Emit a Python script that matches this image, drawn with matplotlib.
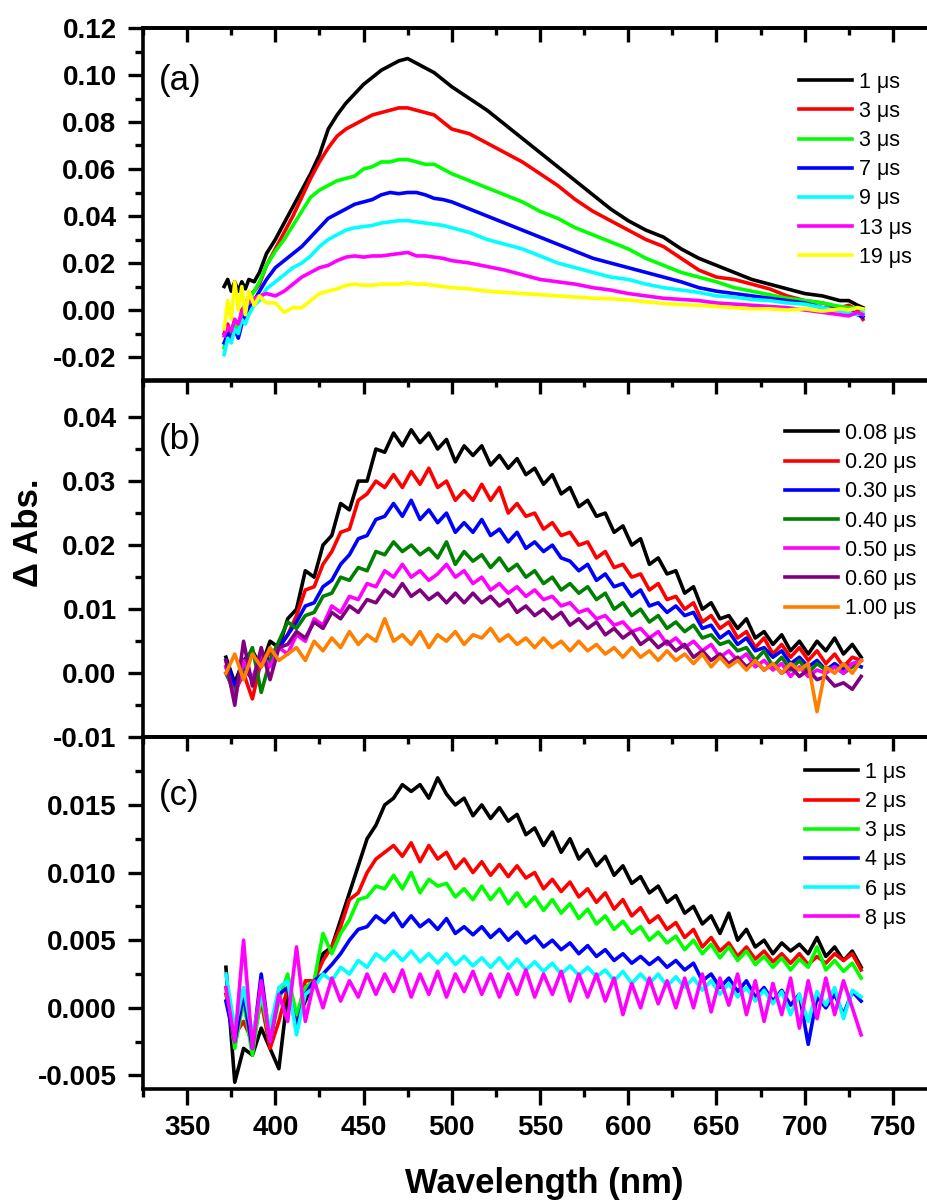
import matplotlib
matplotlib.use("Agg")
import matplotlib.pyplot as plt
from matplotlib.ticker import FixedLocator, FixedFormatter

plt.rcParams['font.family'] = ['Liberation Sans', 'DejaVu Sans']

# ---------------- data ----------------
# panel (a)
wl_a = [371, 373, 375, 377, 379, 381, 383, 385, 388, 391,
        395, 400, 405, 410, 415, 420, 425, 430, 435, 440,
        445, 450, 455, 460, 465, 470, 475, 480, 485, 490,
        495, 500, 510, 520, 530, 540, 550, 560, 570, 580,
        590, 600, 610, 620, 630, 640, 650, 660, 670, 680,
        690, 700, 710, 720, 725, 730, 733]

a_1us = [0.010, 0.013, 0.008, 0.012, 0.008, 0.012, 0.009, 0.013, 0.012, 0.016,
         0.024, 0.030, 0.037, 0.044, 0.051, 0.058, 0.066, 0.077, 0.083, 0.088,
         0.092, 0.096, 0.099, 0.102, 0.104, 0.106, 0.107, 0.105, 0.103, 0.101,
         0.098, 0.095, 0.090, 0.085, 0.079, 0.073, 0.067, 0.061, 0.055, 0.049,
         0.043, 0.038, 0.034, 0.031, 0.026, 0.022, 0.019, 0.016, 0.013, 0.011,
         0.009, 0.007, 0.006, 0.004, 0.004, 0.002, 0.001]
a_3us_r = [-0.010, -0.006, -0.011, -0.004, -0.008, 0.000, 0.002, 0.006, 0.008, 0.011,
           0.019, 0.026, 0.033, 0.040, 0.048, 0.056, 0.063, 0.069, 0.074, 0.077,
           0.079, 0.081, 0.083, 0.084, 0.085, 0.086, 0.086, 0.085, 0.084, 0.083,
           0.080, 0.077, 0.075, 0.071, 0.067, 0.063, 0.058, 0.053, 0.047, 0.042,
           0.038, 0.034, 0.030, 0.027, 0.022, 0.017, 0.014, 0.013, 0.011, 0.009,
           0.006, 0.004, 0.003, 0.001, 0.002, 0.000, -0.004]
a_3us_g = [-0.016, -0.010, -0.012, -0.006, -0.008, -0.002, 0.001, 0.004, 0.008, 0.012,
           0.019, 0.025, 0.030, 0.036, 0.042, 0.048, 0.051, 0.053, 0.055, 0.056,
           0.057, 0.060, 0.061, 0.063, 0.063, 0.064, 0.064, 0.063, 0.062, 0.062,
           0.060, 0.058, 0.055, 0.052, 0.049, 0.046, 0.042, 0.039, 0.035, 0.032,
           0.029, 0.026, 0.022, 0.019, 0.016, 0.014, 0.012, 0.0095, 0.008, 0.0065,
           0.005, 0.004, 0.003, 0.0015, 0.001, 0.001, 0.000]
a_7us = [-0.014, -0.010, -0.012, -0.008, -0.012, -0.006, -0.002, 0.001, 0.004, 0.008,
         0.013, 0.018, 0.021, 0.024, 0.027, 0.031, 0.035, 0.039, 0.041, 0.043,
         0.045, 0.046, 0.047, 0.049, 0.050, 0.0495, 0.050, 0.050, 0.049, 0.0475,
         0.047, 0.046, 0.043, 0.040, 0.037, 0.034, 0.031, 0.028, 0.025, 0.022,
         0.020, 0.018, 0.016, 0.014, 0.012, 0.0095, 0.008, 0.007, 0.006, 0.005,
         0.004, 0.003, 0.001, 0.000, 0.000, -0.002, -0.003]
a_9us = [-0.019, -0.012, -0.014, -0.008, -0.010, -0.004, -0.006, -0.002, 0.002, 0.004,
         0.009, 0.012, 0.015, 0.018, 0.020, 0.023, 0.027, 0.030, 0.032, 0.034,
         0.035, 0.0355, 0.036, 0.037, 0.0375, 0.038, 0.038, 0.0375, 0.037, 0.0365,
         0.036, 0.035, 0.033, 0.030, 0.028, 0.026, 0.023, 0.020, 0.018, 0.016,
         0.014, 0.013, 0.011, 0.0095, 0.0085, 0.0075, 0.006, 0.0055, 0.0045, 0.004,
         0.003, 0.0025, 0.001, -0.0005, -0.001, -0.002, -0.001]
a_13us = [-0.011, -0.007, -0.009, -0.004, -0.006, -0.001, 0.002, 0.003, 0.005, 0.006,
          0.007, 0.006, 0.008, 0.011, 0.014, 0.016, 0.018, 0.019, 0.021, 0.0225,
          0.023, 0.0225, 0.023, 0.023, 0.0235, 0.024, 0.0245, 0.023, 0.023, 0.0225,
          0.022, 0.021, 0.020, 0.0185, 0.017, 0.015, 0.013, 0.012, 0.011, 0.0095,
          0.0085, 0.007, 0.006, 0.005, 0.0045, 0.004, 0.003, 0.0025, 0.002, 0.0015,
          0.001, 0.000, -0.001, -0.002, -0.0025, -0.001, -0.002]
a_19us = [-0.008, 0.004, -0.004, 0.012, 0.000, 0.010, -0.002, 0.008, 0.002, 0.006,
          0.003, 0.003, -0.001, 0.001, 0.001, 0.004, 0.007, 0.008, 0.009, 0.0105,
          0.011, 0.0105, 0.0105, 0.011, 0.011, 0.011, 0.0115, 0.011, 0.011, 0.0105,
          0.010, 0.0095, 0.009, 0.008, 0.0075, 0.007, 0.0065, 0.006, 0.0055, 0.005,
          0.0048, 0.0043, 0.0035, 0.0028, 0.0023, 0.002, 0.0015, 0.001, 0.0005, 0.0005,
          0.000, 0.0005, -0.0005, 0.0005, 0.000, 0.001, 0.0005]

labels_a = ['1 μs', '3 μs', '3 μs', '7 μs', '9 μs', '13 μs', '19 μs']
series_a = [a_1us, a_3us_r, a_3us_g, a_7us, a_9us, a_13us, a_19us]
colors_a = ['#000000', '#FF0000', '#00FF00', '#0000FF', '#00FFFF', '#FF00FF', '#FFFF00']

# panels (b) and (c): wavelengths 372, 377, ..., 732 nm
wl_bc = list(range(372, 733, 5))

b_008 = [0.0025, -0.0015, 0.0020, 0.0035, 0.0010, 0.0050, 0.0040, 0.0085, 0.0100, 0.0160,
         0.0150, 0.0200, 0.0215, 0.0265, 0.0255, 0.0300, 0.0300, 0.0350, 0.0345, 0.0375,
         0.0355, 0.0380, 0.0360, 0.0375, 0.0350, 0.0365, 0.0330, 0.0355, 0.0340, 0.0355,
         0.0325, 0.0340, 0.0320, 0.0335, 0.0310, 0.0320, 0.0295, 0.0310, 0.0280, 0.0290,
         0.0260, 0.0270, 0.0245, 0.0250, 0.0220, 0.0230, 0.0200, 0.0210, 0.0170, 0.0180,
         0.0155, 0.0160, 0.0125, 0.0135, 0.0100, 0.0110, 0.0085, 0.0090, 0.0070, 0.0085,
         0.0055, 0.0065, 0.0045, 0.0060, 0.0035, 0.0050, 0.0030, 0.0050, 0.0035, 0.0055,
         0.0030, 0.0045, 0.0025]
b_020 = [0.0010, -0.0030, 0.0000, -0.0040, 0.0020, 0.0030, 0.0040, 0.0060, 0.0090, 0.0130,
         0.0135, 0.0170, 0.0190, 0.0220, 0.0225, 0.0270, 0.0280, 0.0300, 0.0290, 0.0310,
         0.0290, 0.0315, 0.0295, 0.0320, 0.0290, 0.0300, 0.0270, 0.0285, 0.0270, 0.0295,
         0.0270, 0.0290, 0.0250, 0.0265, 0.0245, 0.0250, 0.0225, 0.0235, 0.0215, 0.0220,
         0.0200, 0.0205, 0.0180, 0.0190, 0.0165, 0.0170, 0.0150, 0.0155, 0.0130, 0.0140,
         0.0115, 0.0120, 0.0100, 0.0110, 0.0080, 0.0090, 0.0070, 0.0080, 0.0055, 0.0065,
         0.0040, 0.0055, 0.0030, 0.0045, 0.0025, 0.0040, 0.0020, 0.0035, 0.0015, 0.0030,
         0.0010, 0.0025, 0.0020]
b_030 = [0.0020, -0.0020, 0.0010, -0.0010, 0.0030, 0.0020, 0.0040, 0.0060, 0.0080, 0.0105,
         0.0110, 0.0135, 0.0145, 0.0170, 0.0185, 0.0210, 0.0215, 0.0240, 0.0245, 0.0265,
         0.0245, 0.0270, 0.0240, 0.0255, 0.0235, 0.0250, 0.0220, 0.0235, 0.0220, 0.0240,
         0.0215, 0.0225, 0.0205, 0.0220, 0.0195, 0.0205, 0.0190, 0.0200, 0.0180, 0.0175,
         0.0160, 0.0170, 0.0145, 0.0155, 0.0135, 0.0140, 0.0120, 0.0130, 0.0105, 0.0110,
         0.0095, 0.0105, 0.0090, 0.0095, 0.0070, 0.0075, 0.0055, 0.0065, 0.0045, 0.0055,
         0.0035, 0.0040, 0.0025, 0.0035, 0.0015, 0.0025, 0.0010, 0.0020, 0.0005, 0.0015,
         0.0005, 0.0015, 0.0010]
b_040 = [0.0000, -0.0030, 0.0010, 0.0040, -0.0030, 0.0020, 0.0050, 0.0080, 0.0070, 0.0090,
         0.0095, 0.0120, 0.0125, 0.0150, 0.0145, 0.0165, 0.0160, 0.0190, 0.0185, 0.0205,
         0.0190, 0.0200, 0.0185, 0.0195, 0.0180, 0.0205, 0.0170, 0.0190, 0.0175, 0.0185,
         0.0165, 0.0180, 0.0160, 0.0170, 0.0150, 0.0160, 0.0140, 0.0150, 0.0130, 0.0140,
         0.0125, 0.0135, 0.0115, 0.0125, 0.0100, 0.0110, 0.0090, 0.0100, 0.0080, 0.0090,
         0.0070, 0.0080, 0.0065, 0.0075, 0.0055, 0.0060, 0.0045, 0.0050, 0.0035, 0.0040,
         0.0020, 0.0035, 0.0010, 0.0025, 0.0005, 0.0020, 0.0000, 0.0015, 0.0005, 0.0010,
         0.0000, 0.0010, 0.0020]
b_050 = [0.0010, -0.0040, 0.0020, -0.0010, 0.0030, 0.0010, 0.0040, 0.0030, 0.0060, 0.0050,
         0.0085, 0.0075, 0.0105, 0.0095, 0.0120, 0.0115, 0.0140, 0.0135, 0.0160, 0.0150,
         0.0170, 0.0150, 0.0160, 0.0145, 0.0155, 0.0170, 0.0150, 0.0160, 0.0140, 0.0150,
         0.0130, 0.0140, 0.0125, 0.0135, 0.0120, 0.0130, 0.0115, 0.0120, 0.0105, 0.0110,
         0.0095, 0.0100, 0.0085, 0.0090, 0.0075, 0.0080, 0.0065, 0.0070, 0.0055, 0.0065,
         0.0045, 0.0055, 0.0040, 0.0050, 0.0035, 0.0045, 0.0025, 0.0035, 0.0020, 0.0030,
         0.0010, 0.0020, 0.0005, 0.0015, -0.0005, 0.0010, -0.0005, 0.0005, 0.0000, 0.0010,
         0.0000, 0.0015, 0.0020]
b_060 = [0.0020, -0.0050, 0.0050, -0.0020, 0.0040, -0.0010, 0.0040, 0.0045, 0.0065, 0.0055,
         0.0080, 0.0070, 0.0095, 0.0085, 0.0105, 0.0095, 0.0115, 0.0110, 0.0130, 0.0120,
         0.0140, 0.0120, 0.0130, 0.0115, 0.0125, 0.0110, 0.0125, 0.0110, 0.0125, 0.0110,
         0.0120, 0.0105, 0.0115, 0.0095, 0.0105, 0.0090, 0.0100, 0.0085, 0.0095, 0.0075,
         0.0085, 0.0070, 0.0080, 0.0060, 0.0070, 0.0055, 0.0065, 0.0045, 0.0055, 0.0040,
         0.0050, 0.0035, 0.0045, 0.0025, 0.0035, 0.0020, 0.0030, 0.0015, 0.0025, 0.0010,
         0.0020, 0.0005, 0.0015, 0.0000, 0.0010, -0.0005, 0.0005, -0.0010, -0.0005, -0.0020,
         -0.0015, -0.0025, -0.0005]
b_100 = [0.0000, 0.0030, -0.0010, 0.0030, 0.0010, 0.0040, 0.0020, 0.0030, 0.0040, 0.0020,
         0.0050, 0.0035, 0.0055, 0.0040, 0.0065, 0.0045, 0.0060, 0.0050, 0.0085, 0.0050,
         0.0060, 0.0045, 0.0065, 0.0040, 0.0060, 0.0050, 0.0065, 0.0045, 0.0060, 0.0055,
         0.0070, 0.0050, 0.0060, 0.0045, 0.0055, 0.0040, 0.0055, 0.0040, 0.0050, 0.0035,
         0.0050, 0.0035, 0.0045, 0.0030, 0.0040, 0.0025, 0.0040, 0.0025, 0.0035, 0.0020,
         0.0035, 0.0020, 0.0030, 0.0015, 0.0030, 0.0010, 0.0025, 0.0010, 0.0020, 0.0005,
         0.0020, 0.0005, 0.0015, 0.0000, 0.0015, 0.0005, 0.0015, -0.0060, 0.0010, 0.0000,
         0.0015, 0.0000, 0.0020]

labels_b = ['0.08 μs', '0.20 μs', '0.30 μs', '0.40 μs', '0.50 μs', '0.60 μs', '1.00 μs']
series_b = [b_008, b_020, b_030, b_040, b_050, b_060, b_100]
colors_b = ['#000000', '#FF0000', '#0000FF', '#008000', '#FF00FF', '#800080', '#FF8000']

c_1us = [0.0030, -0.0055, -0.0030, -0.0035, -0.0015, -0.0030, -0.0045, 0.0010, -0.0010, 0.0005,
         0.0020, 0.0040, 0.0045, 0.0065, 0.0085, 0.0105, 0.0125, 0.0135, 0.0150, 0.0155,
         0.0165, 0.0160, 0.0165, 0.0155, 0.0170, 0.0158, 0.0150, 0.0155, 0.0142, 0.0150,
         0.0140, 0.0148, 0.0138, 0.0143, 0.0128, 0.0133, 0.0120, 0.0130, 0.0115, 0.0125,
         0.0110, 0.0117, 0.0105, 0.0112, 0.0098, 0.0105, 0.0092, 0.0097, 0.0085, 0.0090,
         0.0078, 0.0083, 0.0070, 0.0075, 0.0062, 0.0068, 0.0055, 0.0070, 0.0050, 0.0058,
         0.0045, 0.0050, 0.0040, 0.0048, 0.0042, 0.0047, 0.0040, 0.0052, 0.0038, 0.0045,
         0.0035, 0.0042, 0.0030]
c_2us = [0.0010, -0.0020, -0.0010, -0.0025, 0.0005, -0.0030, -0.0010, 0.0015, -0.0010, 0.0020,
         0.0020, 0.0035, 0.0045, 0.0060, 0.0080, 0.0085, 0.0100, 0.0110, 0.0115, 0.0120,
         0.0112, 0.0122, 0.0108, 0.0120, 0.0110, 0.0115, 0.0103, 0.0110, 0.0100, 0.0108,
         0.0098, 0.0106, 0.0097, 0.0105, 0.0096, 0.0100, 0.0088, 0.0095, 0.0086, 0.0093,
         0.0082, 0.0088, 0.0078, 0.0085, 0.0073, 0.0080, 0.0068, 0.0074, 0.0063, 0.0068,
         0.0058, 0.0063, 0.0052, 0.0058, 0.0045, 0.0052, 0.0042, 0.0048, 0.0038, 0.0045,
         0.0036, 0.0042, 0.0034, 0.0040, 0.0033, 0.0040, 0.0032, 0.0038, 0.0033, 0.0040,
         0.0035, 0.0040, 0.0028]
c_3us = [0.0015, -0.0030, 0.0005, -0.0035, 0.0010, -0.0025, 0.0005, 0.0025, -0.0005, 0.0015,
         0.0020, 0.0055, 0.0040, 0.0055, 0.0065, 0.0080, 0.0082, 0.0090, 0.0088, 0.0098,
         0.0088, 0.0100, 0.0085, 0.0095, 0.0090, 0.0092, 0.0082, 0.0088, 0.0080, 0.0090,
         0.0080, 0.0088, 0.0077, 0.0085, 0.0075, 0.0082, 0.0072, 0.0080, 0.0070, 0.0077,
         0.0066, 0.0073, 0.0062, 0.0068, 0.0058, 0.0064, 0.0055, 0.0060, 0.0050, 0.0056,
         0.0048, 0.0053, 0.0043, 0.0050, 0.0040, 0.0047, 0.0037, 0.0045, 0.0035, 0.0042,
         0.0032, 0.0038, 0.0030, 0.0037, 0.0028, 0.0036, 0.0030, 0.0045, 0.0028, 0.0035,
         0.0027, 0.0033, 0.0022]
c_4us = [0.0005, -0.0025, 0.0010, -0.0030, 0.0025, -0.0025, 0.0010, 0.0015, -0.0015, 0.0010,
         0.0020, 0.0025, 0.0032, 0.0040, 0.0050, 0.0058, 0.0060, 0.0068, 0.0063, 0.0070,
         0.0060, 0.0068, 0.0060, 0.0065, 0.0058, 0.0066, 0.0055, 0.0060, 0.0054, 0.0060,
         0.0052, 0.0058, 0.0050, 0.0056, 0.0048, 0.0053, 0.0045, 0.0050, 0.0043, 0.0048,
         0.0040, 0.0046, 0.0038, 0.0043, 0.0035, 0.0040, 0.0033, 0.0038, 0.0032, 0.0037,
         0.0030, 0.0035, 0.0028, 0.0033, 0.0020, 0.0025, 0.0015, 0.0022, 0.0012, 0.0020,
         0.0008, 0.0015, 0.0005, 0.0013, 0.0002, 0.0010, -0.0027, 0.0008, 0.0000, 0.0010,
         -0.0005, 0.0012, 0.0005]
c_6us = [0.0025, -0.0015, 0.0015, -0.0020, 0.0010, -0.0015, 0.0015, 0.0020, -0.0020, 0.0010,
         0.0015, 0.0025, 0.0020, 0.0030, 0.0025, 0.0035, 0.0030, 0.0040, 0.0035, 0.0042,
         0.0035, 0.0042, 0.0034, 0.0040, 0.0033, 0.0040, 0.0032, 0.0038, 0.0031, 0.0037,
         0.0030, 0.0037, 0.0029, 0.0036, 0.0028, 0.0034, 0.0027, 0.0033, 0.0025, 0.0031,
         0.0024, 0.0030, 0.0023, 0.0028, 0.0020, 0.0027, 0.0018, 0.0025, 0.0018, 0.0025,
         0.0016, 0.0023, 0.0015, 0.0022, 0.0013, 0.0020, 0.0010, 0.0018, 0.0008, 0.0015,
         0.0005, 0.0013, 0.0003, 0.0012, -0.0005, 0.0010, -0.0010, 0.0012, 0.0002, 0.0015,
         -0.0008, 0.0013, 0.0008]
c_8us = [0.0015, -0.0025, 0.0050, -0.0030, 0.0020, -0.0025, 0.0010, -0.0010, 0.0045, -0.0010,
         0.0020, 0.0000, 0.0022, 0.0005, 0.0020, 0.0008, 0.0025, 0.0010, 0.0025, 0.0012,
         0.0028, 0.0008, 0.0025, 0.0010, 0.0027, 0.0008, 0.0025, 0.0012, 0.0027, 0.0010,
         0.0025, 0.0008, 0.0025, 0.0010, 0.0028, 0.0008, 0.0025, 0.0010, 0.0027, 0.0005,
         0.0025, 0.0008, 0.0025, 0.0005, 0.0022, -0.0005, 0.0018, 0.0000, 0.0022, 0.0003,
         0.0020, 0.0000, 0.0022, 0.0000, 0.0025, -0.0003, 0.0022, 0.0002, 0.0025, -0.0005,
         0.0020, -0.0010, 0.0018, -0.0005, 0.0022, -0.0015, 0.0020, -0.0008, 0.0022, -0.0005,
         0.0020, 0.0000, -0.0020]

labels_c = ['1 μs', '2 μs', '3 μs', '4 μs', '6 μs', '8 μs']
series_c = [c_1us, c_2us, c_3us, c_4us, c_6us, c_8us]
colors_c = ['#000000', '#FF0000', '#00FF00', '#0000FF', '#00FFFF', '#FF00FF']

x_major = [350, 400, 450, 500, 550, 600, 650, 700, 750]
x_minor = [325, 375, 425, 475, 525, 575, 625, 675, 725, 775]
x_labels = ['350', '400', '450', '500', '550', '600', '650', '700', '750']

ya_major = [-0.02, 0.00, 0.02, 0.04, 0.06, 0.08, 0.10, 0.12]
ya_labels = ['-0.02', '0.00', '0.02', '0.04', '0.06', '0.08', '0.10', '0.12']
ya_minor = [-0.01, 0.01, 0.03, 0.05, 0.07, 0.09, 0.11]
yb_major = [-0.01, 0.00, 0.01, 0.02, 0.03, 0.04]
yb_labels = ['-0.01', '0.00', '0.01', '0.02', '0.03', '0.04']
yb_minor = [-0.005, 0.005, 0.015, 0.025, 0.035]
yc_major = [-0.005, 0.000, 0.005, 0.010, 0.015]
yc_labels = ['-0.005', '0.000', '0.005', '0.010', '0.015']
yc_minor = [-0.0025, 0.0025, 0.0075, 0.0125, 0.0175]

# ---------------- figure ----------------
W, H = 928, 1204
fig = plt.figure(figsize=(W / 100, H / 100), dpi=100)

def rect(top, bottom, left=143, right=937):
    return [left / W, 1 - bottom / H, (right - left) / W, (bottom - top) / H]

axA = fig.add_axes(rect(28, 380.5))
axB = fig.add_axes(rect(380.5, 737.3))
axC = fig.add_axes(rect(737.3, 1089))

panels = [
    (axA, wl_a, series_a, colors_a, labels_a, (-0.03, 0.12), ya_major, ya_labels, ya_minor,
     '(a)', 0.85, (0.826, 0.876)),
    (axB, wl_bc, series_b, colors_b, labels_b, (-0.01, 0.0457), yb_major, yb_labels, yb_minor,
     '(b)', 0.834, (0.8086, 0.881)),
    (axC, wl_bc, series_c, colors_c, labels_c, (-0.006, 0.02), yc_major, yc_labels, yc_minor,
     '(c)', 0.835, (0.834, 0.930)),
]

for i, (ax, wl, series, cols, labs, ylim, ymaj, ylab, ymin, ptxt, py, lpos) in enumerate(panels):
    for ys, c, lab in zip(series, cols, labs):
        ax.plot(wl, ys, color=c, lw=2.6, label=lab, solid_joinstyle='round')
    ax.set_xlim(325, 775)
    ax.set_ylim(*ylim)
    for s in ax.spines.values():
        s.set_linewidth(2.6)
    ax.xaxis.set_major_locator(FixedLocator(x_major))
    ax.xaxis.set_minor_locator(FixedLocator(x_minor))
    ax.yaxis.set_major_locator(FixedLocator(ymaj))
    ax.yaxis.set_major_formatter(FixedFormatter(ylab))
    ax.yaxis.set_minor_locator(FixedLocator(ymin))
    ax.tick_params(axis='x', which='both', direction='out', top=False, bottom=True, width=2.4)
    ax.tick_params(axis='x', which='major', length=11.5)
    ax.tick_params(axis='x', which='minor', length=5.5)
    ax.tick_params(axis='y', which='both', direction='out', left=True, right=False, width=2.4)
    ax.tick_params(axis='y', which='major', length=11, pad=8, labelsize=20)
    ax.tick_params(axis='y', which='minor', length=5.5)
    for t in ax.get_yticklabels():
        t.set_fontweight('bold')
    if i < 2:
        ax.tick_params(axis='x', labelbottom=False)
    else:
        ax.xaxis.set_major_formatter(FixedFormatter(x_labels))
        ax.tick_params(axis='x', which='major', labelsize=20, pad=7)
        for t in ax.get_xticklabels():
            t.set_fontweight('bold')
    sec = ax.secondary_xaxis('top')
    sec.xaxis.set_major_locator(FixedLocator(x_major))
    sec.xaxis.set_minor_locator(FixedLocator(x_minor))
    sec.tick_params(axis='x', which='both', direction='in', labeltop=False, width=2.4)
    sec.tick_params(axis='x', which='major', length=10)
    sec.tick_params(axis='x', which='minor', length=5)
    sec.spines['top'].set_linewidth(2.6)

    ax.text(0.02, py, ptxt, transform=ax.transAxes, fontsize=25, ha='left', va='center')
    ax.legend(loc='upper left', bbox_to_anchor=lpos, frameon=False, fontsize=15.5,
              borderpad=0, borderaxespad=0, handlelength=2.45, handletextpad=0.33,
              labelspacing=0.38)

fig.text(544 / W, 1 - 1184 / H, 'Wavelength (nm)', ha='center', va='center',
         fontsize=25, fontweight='bold')
fig.text(28.5 / W, 1 - 532.5 / H, 'Δ Abs.', ha='center', va='center', rotation=90,
         fontsize=25, fontweight='bold')

fig.savefig('out.png', dpi=100)
